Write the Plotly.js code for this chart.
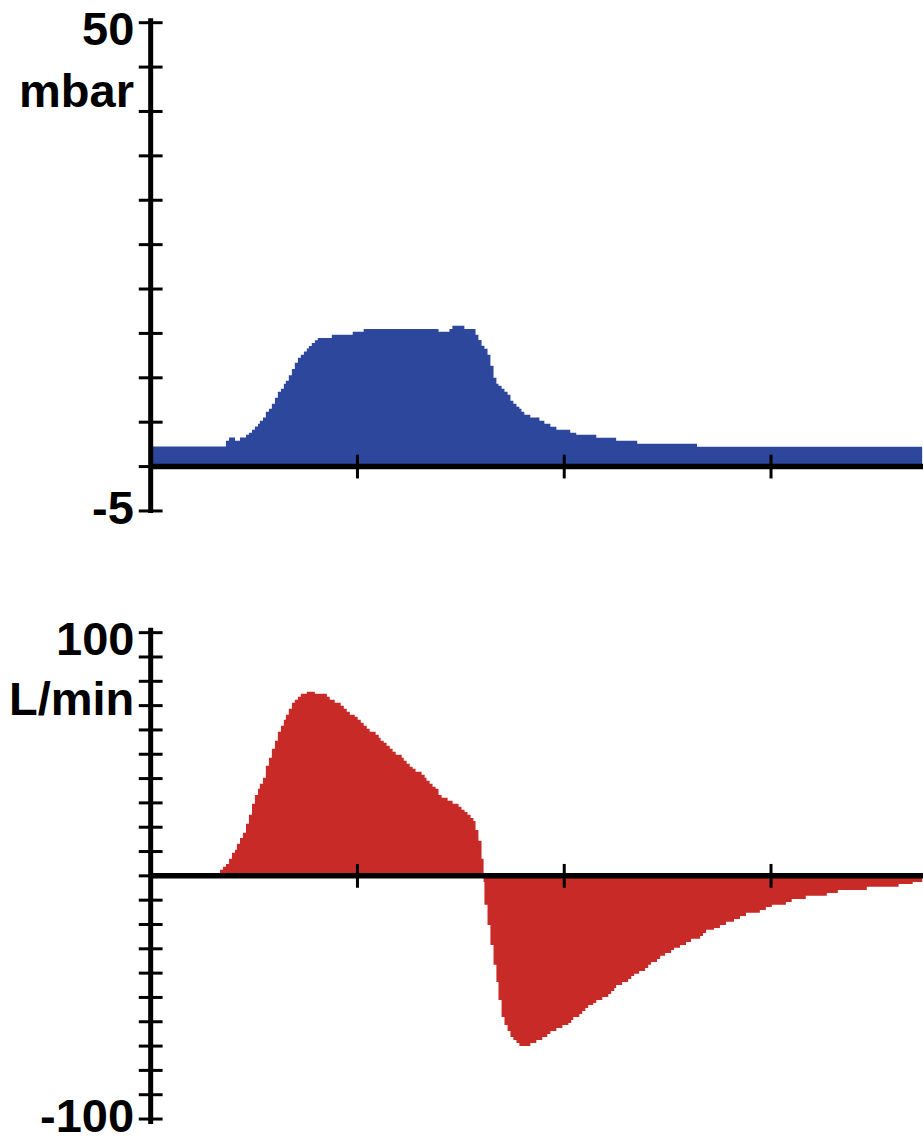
<!DOCTYPE html>
<html>
<head>
<meta charset="utf-8">
<script src="https://cdn.plot.ly/plotly-3.0.1.min.js"></script>
<style>html,body{margin:0;padding:0;background:#fff;}#chart{width:923px;height:1139px;}</style>
</head>
<body>
<div id="chart"></div>
<script>
// Time in seconds
const timeP = [0, 0.364, 0.379, 0.408, 0.432, 0.461, 0.475, 0.490, 0.504, 0.519, 0.528, 0.543, 0.557, 0.572, 0.586, 0.601, 0.615, 0.630, 0.644, 0.654, 0.668, 0.683, 0.697, 0.712, 0.726, 0.741, 0.755, 0.765, 0.779, 0.794, 0.808, 0.876, 0.977, 1.030, 1.392, 1.445, 1.459, 1.517, 1.571, 1.585, 1.600, 1.614, 1.629, 1.643, 1.658, 1.672, 1.682, 1.697, 1.711, 1.726, 1.740, 1.754, 1.769, 1.783, 1.793, 1.807, 1.836, 1.880, 1.904, 1.933, 1.962, 2.029, 2.058, 2.155, 2.251, 2.353, 2.642, 3.731];
// Airway pressure, mbar
const pressure = [2.25, 2.91, 3.28, 2.91, 3.28, 3.58, 3.81, 4.15, 4.52, 4.83, 5.16, 5.54, 6.18, 6.52, 7.08, 7.76, 8.43, 8.77, 9.34, 9.68, 10.3, 11.0, 11.7, 12.27, 12.6, 12.95, 13.3, 13.58, 13.92, 14.22, 14.49, 14.86, 15.2, 15.5, 15.2, 15.5, 15.87, 15.5, 14.86, 14.26, 13.62, 13.28, 12.6, 11.36, 10.0, 9.34, 9.1, 8.77, 8.43, 8.08, 7.42, 7.08, 6.74, 6.52, 6.18, 5.84, 5.52, 5.16, 4.83, 4.49, 4.15, 3.81, 3.58, 3.25, 2.91, 2.57, 2.23, 2.23];

const timeF = [0, 0.335, 0.350, 0.364, 0.379, 0.393, 0.408, 0.417, 0.432, 0.446, 0.461, 0.475, 0.490, 0.504, 0.519, 0.528, 0.543, 0.557, 0.572, 0.586, 0.601, 0.615, 0.630, 0.644, 0.654, 0.668, 0.683, 0.697, 0.712, 0.726, 0.755, 0.794, 0.852, 0.866, 0.890, 0.919, 0.934, 0.948, 0.963, 0.987, 1.001, 1.016, 1.030, 1.045, 1.059, 1.088, 1.103, 1.112, 1.127, 1.141, 1.156, 1.170, 1.185, 1.214, 1.224, 1.238, 1.253, 1.267, 1.281, 1.310, 1.325, 1.334, 1.349, 1.363, 1.378, 1.392, 1.407, 1.436, 1.460, 1.489, 1.503, 1.518, 1.532, 1.547, 1.561, 1.571, 1.585, 1.600, 1.610, 1.614, 1.629, 1.643, 1.658, 1.672, 1.682, 1.697, 1.711, 1.726, 1.740, 1.754, 1.769, 1.783, 1.836, 1.865, 1.894, 1.918, 1.933, 1.962, 1.991, 2.020, 2.034, 2.044, 2.073, 2.087, 2.102, 2.116, 2.140, 2.155, 2.184, 2.213, 2.227, 2.242, 2.251, 2.280, 2.309, 2.324, 2.338, 2.362, 2.391, 2.406, 2.420, 2.449, 2.464, 2.488, 2.517, 2.531, 2.560, 2.589, 2.613, 2.657, 2.671, 2.686, 2.724, 2.753, 2.782, 2.821, 2.850, 2.879, 2.946, 2.975, 3.004, 3.072, 3.100, 3.168, 3.270, 3.323, 3.463, 3.617, 3.685, 3.731];
// Flow, L/min
const flow = [0, 2.5, 3.7, 4.9, 7.0, 9.5, 10.7, 13.2, 15.6, 17.7, 21.4, 25.1, 29.6, 33.3, 35.8, 37.9, 40.3, 45.3, 48.6, 52.3, 55.6, 59.3, 61.7, 64.2, 66.3, 68.7, 71.2, 72.4, 73.7, 74.9, 75.7, 74.9, 73.7, 72.4, 71.2, 70.0, 68.7, 67.5, 66.3, 65.4, 64.2, 63.0, 61.7, 60.5, 59.3, 58.0, 56.8, 55.6, 54.7, 53.5, 52.3, 51.0, 49.8, 48.6, 47.3, 46.1, 44.9, 44.0, 42.8, 41.6, 40.3, 39.1, 37.9, 36.6, 35.8, 33.3, 32.1, 30.9, 29.6, 28.4, 27.2, 26.3, 25.1, 23.8, 22.6, 18.9, 14.4, 7.0, -2.5, -11.9, -20.2, -28.4, -36.6, -43.6, -51.0, -58.0, -61.3, -63.8, -66.3, -67.5, -68.7, -70.0, -68.7, -67.5, -66.3, -65.0, -63.8, -62.6, -61.3, -60.5, -59.3, -58.0, -56.8, -55.6, -54.3, -53.1, -52.3, -51.0, -49.8, -48.6, -47.3, -46.1, -44.9, -43.6, -42.4, -41.2, -40.3, -39.1, -37.9, -36.6, -35.4, -34.2, -32.9, -31.7, -30.5, -29.6, -28.4, -27.2, -25.9, -24.7, -23.5, -22.2, -21.4, -20.2, -18.9, -17.7, -16.5, -15.2, -14.0, -12.8, -11.9, -10.7, -9.5, -8.2, -7.0, -5.8, -4.5, -3.3, -2.5, -2.5];

const xTicks = [1, 2, 3];
const pTicks = [-5, 0, 5, 10, 15, 20, 25, 30, 35, 40, 45, 50];
const fTicks = [-100, -90, -80, -70, -60, -50, -40, -30, -20, -10, 0, 10, 20, 30, 40, 50, 60, 70, 80, 90, 100];
const pLabels = ['50', 'mbar', '-5'];
const fLabels = ['100', 'L/min', '-100'];

const BLUE = '#2C479C';
const RED = '#C82A27';
const xRange = [-0.1, 3.735];
const pRange = [-5.5, 50.5];
const fRange = [-102, 102];

function tickTrace(xs, ys, sym, xa, ya) {
  return {x: xs, y: ys, xaxis: xa, yaxis: ya, type: 'scatter', mode: 'markers', cliponaxis: false,
    hoverinfo: 'skip', showlegend: false,
    marker: {symbol: sym, size: 17, color: '#000', line: {color: '#000', width: 3}}};
}

const traces = [
  {x: timeP, y: pressure, type: 'scatter', mode: 'lines', line: {shape: 'hv', width: 0, color: BLUE},
   fill: 'tozeroy', fillcolor: BLUE, xaxis: 'x', yaxis: 'y', showlegend: false},
  {x: timeF, y: flow, type: 'scatter', mode: 'lines', line: {shape: 'hv', width: 0, color: RED},
   fill: 'tozeroy', fillcolor: RED, xaxis: 'x2', yaxis: 'y2', showlegend: false},
  tickTrace(pTicks.map(() => 0), pTicks, 'line-ew', 'x', 'y'),
  tickTrace(xTicks, xTicks.map(() => 0), 'line-ns', 'x', 'y'),
  tickTrace(fTicks.map(() => 0), fTicks, 'line-ew', 'x2', 'y2'),
  tickTrace(xTicks, xTicks.map(() => 0), 'line-ns', 'x2', 'y2')
];

const axisOff = {showgrid: false, zeroline: false, showline: false, showticklabels: false, ticks: '', fixedrange: true};
const font = {family: 'Liberation Sans, Arial, sans-serif', size: 47, weight: 'bold', color: '#000'};

function ann(text, xa, ya, yval, yshift) {
  return {text: text, xref: xa, yref: ya, x: 0, y: yval, xanchor: 'right', yanchor: 'middle',
    xshift: -15, yshift: yshift, showarrow: false, font: font};
}

const layout = {
  width: 923, height: 1139,
  margin: {l: 130, r: 0, t: 0, b: 0},
  paper_bgcolor: '#fff', plot_bgcolor: '#fff',
  showlegend: false,
  xaxis: Object.assign({range: xRange, domain: [0, 1], anchor: 'y'}, axisOff),
  yaxis: Object.assign({range: pRange, domain: [0.5475, 0.98397], anchor: 'x'}, axisOff),
  xaxis2: Object.assign({range: xRange, domain: [0, 1], anchor: 'y2'}, axisOff),
  yaxis2: Object.assign({range: fRange, domain: [0.01326, 0.44881], anchor: 'x2'}, axisOff),
  shapes: [
    {type: 'line', xref: 'x', yref: 'y domain', x0: 0, x1: 0, y0: 0.005, y1: 1, layer: 'above', line: {color: '#000', width: 5}},
    {type: 'line', xref: 'x', yref: 'y', x0: 0, x1: xRange[1], y0: 0, y1: 0, layer: 'above', line: {color: '#000', width: 5.5}},
    {type: 'line', xref: 'x2', yref: 'y2 domain', x0: 0, x1: 0, y0: 0, y1: 1, layer: 'above', line: {color: '#000', width: 5}},
    {type: 'line', xref: 'x2', yref: 'y2', x0: 0, x1: xRange[1], y0: 0, y1: 0, layer: 'above', line: {color: '#000', width: 5.5}}
  ],
  annotations: [
    ann(pLabels[0], 'x', 'y', pTicks[pTicks.length - 1], -5.7),
    ann(pLabels[1], 'x', 'y', pTicks[pTicks.length - 1], -67.7),
    ann(pLabels[2], 'x', 'y', pTicks[0], 3.6),
    ann(fLabels[0], 'x2', 'y2', fTicks[fTicks.length - 1], -5.7),
    ann(fLabels[1], 'x2', 'y2', fTicks[fTicks.length - 1], -65.7),
    ann(fLabels[2], 'x2', 'y2', fTicks[0], 4)
  ]
};

Plotly.newPlot('chart', traces, layout, {displayModeBar: false, staticPlot: true});
</script>
</body>
</html>
